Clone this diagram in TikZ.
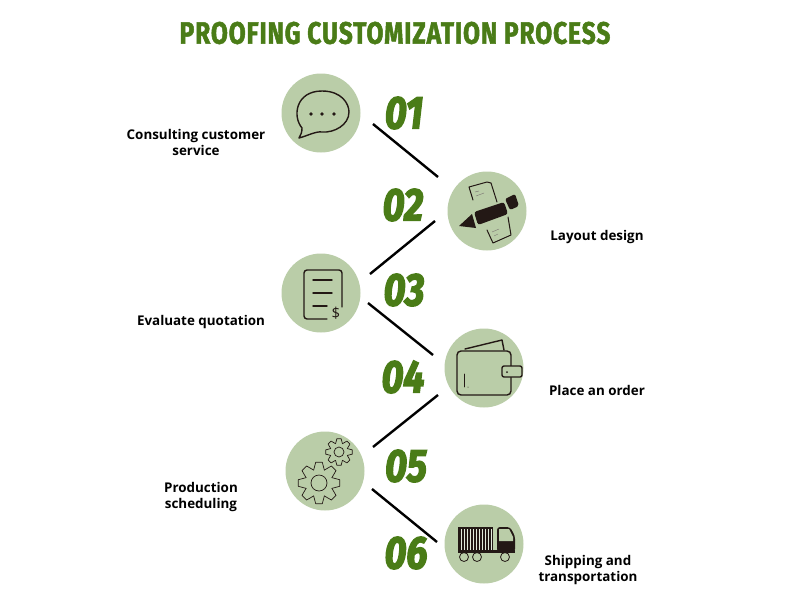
\documentclass[tikz,border=0pt]{standalone}
\usepackage{fontspec}
\usepackage{xcolor}
\usepackage{tikz}
\usetikzlibrary{positioning}
\setmainfont{Open Sans}
\newfontfamily\titlefont[FakeStretch=0.79,LetterSpace=3,FakeBold=1.6]{Fira Sans}
\newfontfamily\numfont[FakeStretch=0.82,FakeBold=3]{Fira Sans}
\definecolor{leaf}{HTML}{4A7C17}
\definecolor{sage}{HTML}{BACDA8}
\definecolor{ink}{HTML}{231815}
\newcommand{\drawgear}[4]{%
  \foreach \a in {0,45,...,315}
    \draw[icon, line width=.7pt] ([shift={(#1,#2)}]\a-22.5:#4) -- ([shift={(#1,#2)}]\a-9:#3) -- ([shift={(#1,#2)}]\a+9:#3) -- ([shift={(#1,#2)}]\a+22.5:#4);
}
\begin{document}
\begin{tikzpicture}[
    x=1pt, y=-1pt,
    stepcircle/.style={circle, fill=sage, minimum size=79pt, inner sep=0pt},
    num/.style={text=leaf, font=\numfont\bfseries\itshape\fontsize{46}{46}\selectfont, inner sep=0pt},
    caption/.style={align=center, font=\bfseries\fontsize{13.4}{16}\selectfont, inner sep=0pt},
    link/.style={line width=2.4pt},
    icon/.style={draw=ink, line width=1.4pt, line join=round, line cap=round}
]
\useasboundingbox (0,0) rectangle (790,611);

\node[text=leaf, font=\titlefont\bfseries\fontsize{31}{31}\selectfont, inner sep=0pt] (title) at (395,33) {PROOFING CUSTOMIZATION PROCESS};

% circles
\node[stepcircle] (consult) at (321,113) {};
\node[stepcircle] (layout) at (487,211) {};
\node[stepcircle] (quote) at (321,293) {};
\node[stepcircle] (order) at (484,368) {};
\node[stepcircle] (sched) at (325,471) {};
\node[stepcircle] (ship) at (484,544) {};

% numbers
\node[num] (n1) at (404,113) {01};
\node[num] (n2) at (403,205) {02};
\node[num] (n3) at (404,290) {03};
\node[num] (n4) at (403,377) {04};
\node[num] (n5) at (406,466) {05};
\node[num] (n6) at (406,553) {06};

% captions
\node[caption] (t1) at (196,142) {Consulting customer\\service};
\node[caption] (t2) at (597,237) {Layout design};
\node[caption] (t3) at (201,322) {Evaluate quotation};
\node[caption] (t4) at (597,390) {Place an order};
\node[caption] (t5) at (201,497) {Production\\ scheduling};
\node[caption] (t6) at (588,570) {Shipping and\\transportation};

% links
\coordinate (a1) at (373,124); \coordinate (b1) at (438,177);
\coordinate (a2) at (370,274); \coordinate (b2) at (435,221);
\coordinate (a3) at (368,303); \coordinate (b3) at (433,355);
\coordinate (a4) at (373,447); \coordinate (b4) at (438,395);
\coordinate (a5) at (372,489); \coordinate (b5) at (437,542);
\foreach \i in {1,...,5}
    \draw[link] (a\i) -- (b\i);

% speech bubble
\draw[icon] (302,128) .. controls (292,116) and (296,91) .. (322,91)
    .. controls (342,91) and (349,104) .. (349,112)
    .. controls (349,125) and (334,133) .. (322,132)
    .. controls (316,131) and (307,136) .. (299,138)
    .. controls (301,135) and (302,132) .. (302,128) -- cycle;
\foreach \x in {311,322,334}
    \fill[ink] (\x,114) circle (1.9);

% pen and papers
\draw[icon, line width=1pt] (473,200) -- (469,187) -- (487,182) -- (491,183) -- (497,202);
\draw[icon, line width=1pt] (508,217) -- (511,235) -- (493,243) -- (487,230);
\fill[ink] (459,226) -- (472,214) -- (476,228) -- cycle;
\fill[ink, rounded corners=2.5pt] (474,212) -- (504,202) -- (508,214) -- (478,225) -- cycle;
\fill[ink, rounded corners=2pt] (505,199) -- (515,194) -- (519,206) -- (510,210) -- cycle;
\draw[ink!60, line width=.4pt] (475,192) -- (479,191) (476,196) -- (484,193) (492,232) -- (499,229) (494,236) -- (498,234);

% quotation sheet
\draw[icon] (342,307) -- (342,274) [rounded corners=3pt] -- (342,270) -- (304,270) -- (304,319) [sharp corners] -- (327,319);
\draw[icon] (313,280) -- (332,280) (313,293) -- (332,293) (313,306) -- (327,306);
\node[text=ink, font=\mdseries\fontsize{15}{15}\selectfont, inner sep=0pt] (dollar) at (336,313) {\$};

% wallet
\draw[icon] (465,349) -- (502,340) -- (504,350);
\draw[icon, rounded corners=4pt] (457,351) rectangle (511,395);
\draw[icon, fill=sage, rounded corners=2pt] (502,366) rectangle (522,377);
\fill[ink] (507,372) circle (1);
\draw[icon, line width=.9pt] (464,374) -- (464,387);
\fill[ink] (468,387) circle (.5);

% gears
\drawgear{319}{483}{21}{14}
\draw[icon, line width=.7pt] (319,483) circle (8);
\drawgear{339}{452}{13.5}{9}
\draw[icon, line width=.7pt] (339,452) circle (5);

% truck
\fill[ink] (458,527) rectangle (493,552);
\foreach \x in {460.5,463.5,...,490.5}
    \fill[sage!40!white] (\x,529) rectangle (\x+1.5,550);
\fill[ink, rounded corners=3pt] (497,552) -- (497,527) -- (510,527) -- (515,536) -- (515,552) -- cycle;
\fill[sage] (499,529) -- (509,529) -- (513,537) -- (513,541) -- (499,541) -- cycle;
\fill[ink] (458,550) rectangle (515,552.5);
\foreach \x in {464,477,505}
    \draw[icon, line width=.8pt] (\x,557) circle (4.5);
\end{tikzpicture}
\end{document}
